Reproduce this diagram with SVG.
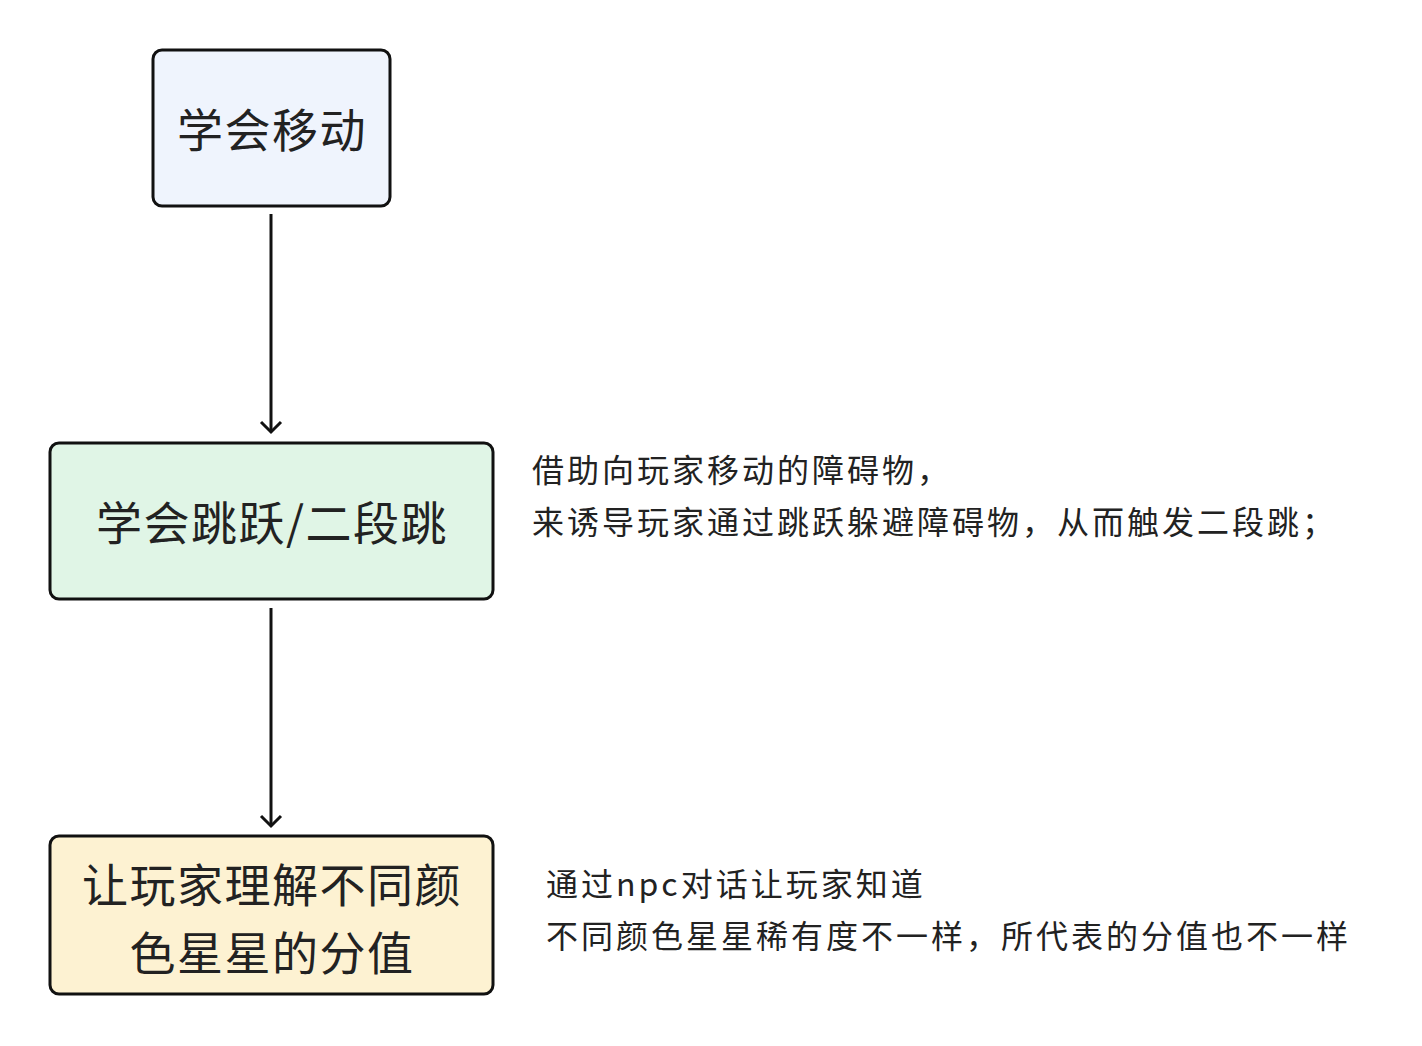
<svg xmlns="http://www.w3.org/2000/svg" width="1422" height="1046" viewBox="0 0 1422 1046">
<style>
.n{stroke:#111;stroke-width:3}
.t{font-family:"Noto Sans CJK SC","Noto Sans",sans-serif;fill:#222;text-anchor:middle;font-size:46px;letter-spacing:1.5px}
.a{font-family:"Noto Sans CJK SC","Noto Sans",sans-serif;fill:#222;font-size:32px;letter-spacing:3px}
.c{stroke:#111;stroke-width:3;fill:none}
</style>
<rect width="1422" height="1046" fill="#fff"/>
<g id="connectors">
<path class="c" d="M271 214 V432"/><path class="c" d="M261 422 L271 432 L281 422"/>
<path class="c" d="M271 608 V826"/><path class="c" d="M261 816 L271 826 L281 816"/>
</g>
<g id="n1"><rect class="n" x="153" y="50" width="237" height="156" rx="9" fill="#eff4fd"/><text class="t" x="272" y="147">学会移动</text></g>
<g id="n2"><rect class="n" x="50" y="443" width="443" height="156" rx="9" fill="#e0f5e6"/><text class="t" x="272" y="540">学会跳跃/二段跳</text></g>
<g id="n3"><rect class="n" x="50" y="836" width="443" height="158" rx="9" fill="#fdf2d2"/><text class="t" x="272" y="902">让玩家理解不同颜</text><text class="t" x="272" y="970">色星星的分值</text></g>
<g id="notes">
<text class="a" x="532" y="482">借助向玩家移动的障碍物，</text>
<text class="a" x="532" y="534">来诱导玩家通过跳跃躲避障碍物，从而触发二段跳；</text>
<text class="a" x="546" y="896">通过npc对话让玩家知道</text>
<text class="a" x="546" y="948">不同颜色星星稀有度不一样，所代表的分值也不一样</text>
</g>
</svg>
